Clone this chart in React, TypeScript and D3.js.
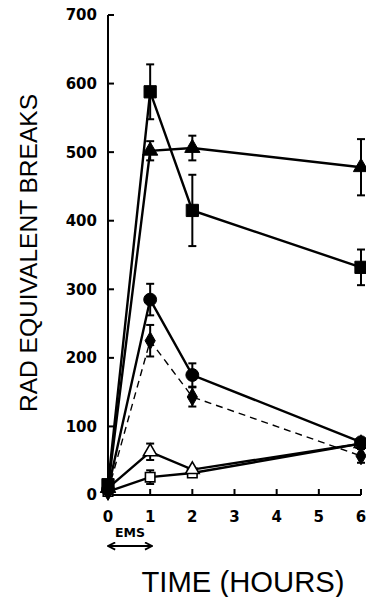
import React from "react";
import * as d3 from "d3";

// time points (hours)
const hours = [0, 1, 2, 6];

// series values (rad equivalent breaks) and +/- error
const filledSquare = [15, 588, 415, 332];
const filledSquareErr = [0, 40, 52, 26];
const filledTriangle = [10, 502, 506, 478];
const filledTriangleErr = [0, 14, 18, 41];
const filledCircle = [8, 285, 175, 77];
const filledCircleErr = [0, 23, 17, 0];
const diamond = [5, 225, 143, 57];
const diamondErr = [0, 23, 14, 10];
const openTriangle = [10, 63, 37, 75];
const openTriangleErr = [0, 12, 0, 0];
const openSquare = [5, 26, 32, 75];
const openSquareErr = [0, 10, 0, 0];

const xTicks = [0, 1, 2, 3, 4, 5, 6];
const yTicks = [0, 100, 200, 300, 400, 500, 600, 700];

const series = [
  { values: openSquare, err: openSquareErr, shape: d3.symbolSquare, size: 90, filled: false, dashed: false },
  { values: openTriangle, err: openTriangleErr, shape: d3.symbolTriangle, size: 80, filled: false, dashed: false },
  { values: diamond, err: diamondErr, shape: d3.symbolDiamond, size: 90, filled: true, dashed: true },
  { values: filledCircle, err: filledCircleErr, shape: d3.symbolCircle, size: 130, filled: true, dashed: false },
  { values: filledTriangle, err: filledTriangleErr, shape: d3.symbolTriangle, size: 100, filled: true, dashed: false },
  { values: filledSquare, err: filledSquareErr, shape: d3.symbolSquare, size: 150, filled: true, dashed: false },
];

export default function App() {
  const width = 366;
  const height = 597;

  const x = d3.scaleLinear().domain([0, 6]).range([108, 361]);
  const y = d3.scaleLinear().domain([0, 700]).range([495, 15]);

  const line = d3
    .line<number>()
    .x((d, i) => x(hours[i]))
    .y((d) => y(d));

  const tickFont = "DejaVu Sans, sans-serif";

  return (
    <div style={{ position: "absolute", left: 0, top: 0 }}>
      <svg width={width} height={height} style={{ display: "block", background: "#fff" }}>
        {/* axes */}
        <line x1={x(0)} x2={x(0)} y1={y(700)} y2={y(0)} stroke="#000" strokeWidth={2} />
        <line x1={x(0)} x2={x(6)} y1={y(0)} y2={y(0)} stroke="#000" strokeWidth={2} />
        {yTicks.map((t) => (
          <g key={"y" + t}>
            <line x1={x(0)} x2={x(0) + 6} y1={y(t)} y2={y(t)} stroke="#000" strokeWidth={2} />
            <text
              x={97}
              y={y(t)}
              dy="0.36em"
              textAnchor="end"
              fontFamily={tickFont}
              fontWeight="bold"
              fontSize={15}
            >
              {t}
            </text>
          </g>
        ))}
        {xTicks.map((t) => (
          <g key={"x" + t}>
            <line x1={x(t)} x2={x(t)} y1={y(0)} y2={y(0) - 6} stroke="#000" strokeWidth={2} />
            <text
              x={x(t)}
              y={522}
              textAnchor="middle"
              fontFamily={tickFont}
              fontWeight="bold"
              fontSize={15}
            >
              {t}
            </text>
          </g>
        ))}

        {/* EMS exposure arrow */}
        <text x={130} y={537} textAnchor="middle" fontFamily={tickFont} fontWeight="bold" fontSize={12.5}>
          EMS
        </text>
        <defs>
          <marker id="ah" viewBox="0 0 10 10" refX={9} refY={5} markerWidth={5} markerHeight={5} orient="auto-start-reverse">
            <path d="M1,1 L9,5 L1,9" fill="none" stroke="#000" strokeWidth={2} />
          </marker>
        </defs>
        <line
          x1={x(0)}
          x2={x(1) + 2}
          y1={546}
          y2={546}
          stroke="#000"
          strokeWidth={1.8}
          markerStart="url(#ah)"
          markerEnd="url(#ah)"
        />

        {/* titles */}
        <text
          transform={`translate(37,253) rotate(-90)`}
          textAnchor="middle"
          fontFamily="Liberation Sans, sans-serif"
          fontSize={24}
          textLength={318}
          lengthAdjust="spacingAndGlyphs"
        >
          RAD EQUIVALENT BREAKS
        </text>
        <text
          x={243}
          y={592}
          textAnchor="middle"
          fontFamily="Liberation Sans, sans-serif"
          fontSize={29}
          textLength={203}
          lengthAdjust="spacingAndGlyphs"
        >
          TIME (HOURS)
        </text>

        {/* lines */}
        {series.map((s, i) => (
          <path
            key={"l" + i}
            d={line(s.values) || ""}
            fill="none"
            stroke="#000"
            strokeWidth={s.dashed ? 1.4 : 2.4}
            strokeDasharray={s.dashed ? "7,5" : undefined}
          />
        ))}

        {/* error bars */}
        {series.map((s, i) =>
          s.values.map((v, j) =>
            s.err[j] > 0 ? (
              <g key={"e" + i + "-" + j} stroke="#000" strokeWidth={2}>
                <line x1={x(hours[j])} x2={x(hours[j])} y1={y(v + s.err[j])} y2={y(v - s.err[j])} />
                <line x1={x(hours[j]) - 4} x2={x(hours[j]) + 4} y1={y(v + s.err[j])} y2={y(v + s.err[j])} />
                <line x1={x(hours[j]) - 4} x2={x(hours[j]) + 4} y1={y(v - s.err[j])} y2={y(v - s.err[j])} />
              </g>
            ) : null
          )
        )}

        {/* markers */}
        {series.map((s, i) =>
          s.values.map((v, j) => (
            <path
              key={"m" + i + "-" + j}
              transform={`translate(${x(hours[j])},${y(v)})`}
              d={d3.symbol().type(s.shape).size(s.size)() || ""}
              fill={s.filled ? "#000" : "#fff"}
              stroke="#000"
              strokeWidth={s.filled ? 1 : 1.6}
            />
          ))
        )}
      </svg>
    </div>
  );
}
